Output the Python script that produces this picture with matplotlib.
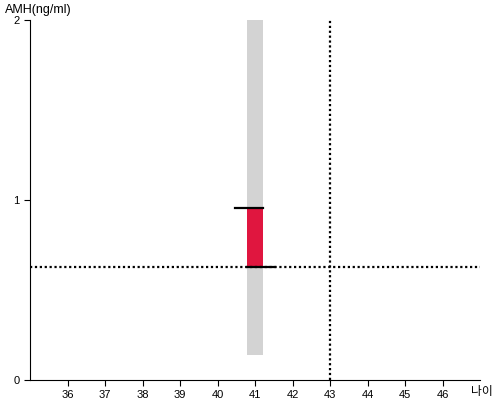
import matplotlib.pyplot as plt
import numpy as np

plt.rcParams['font.family'] = ['Liberation Sans', 'Noto Sans CJK KR', 'DejaVu Sans']

# data
age = 41
gray_range = [0.14, 2.0]        # 나이 41 범위
amh_value = 0.955               # 측정값 (red bar top)
amh_ref = 0.63                  # 기준선 (horizontal dotted)
age_ref = 43                    # 기준 나이 (vertical dotted)
xticks = list(range(36, 47))
yticks = [0, 1, 2]

fig = plt.figure(figsize=(5, 4), dpi=100)
ax = fig.add_axes([0.06, 0.05, 0.90, 0.90])

bw = 0.44
ax.bar(age, gray_range[1] - gray_range[0], bottom=gray_range[0], width=bw, color='#d3d3d3', zorder=1)
ax.bar(age, amh_value - amh_ref, bottom=amh_ref, width=bw, color='#e0163f', zorder=2)

# black caps
ax.plot([age - 0.53, age + bw / 2], [amh_value, amh_value], color='black', lw=1.6, zorder=3)
ax.plot([age - bw / 2, age + 0.53], [amh_ref, amh_ref], color='black', lw=1.6, zorder=3)

ax.axhline(amh_ref, color='black', lw=1.6, linestyle=(0, (1, 1.2)), zorder=2.5)
ax.axvline(age_ref, color='black', lw=1.6, linestyle=(0, (1, 1.2)), zorder=2.5)

ax.set_xlim(35, 47)
ax.set_ylim(0, 2)
ax.set_xticks(xticks)
ax.set_yticks(yticks)
ax.tick_params(labelsize=8, length=4, width=0.8)
for s in ['top', 'right']:
    ax.spines[s].set_visible(False)

fig.text(0.01, 0.975, 'AMH(ng/ml)', fontsize=9, va='center', ha='left')
fig.text(0.964, 0.004, '나이', fontsize=8.5, va='bottom', ha='center')

fig.savefig('out.png')
